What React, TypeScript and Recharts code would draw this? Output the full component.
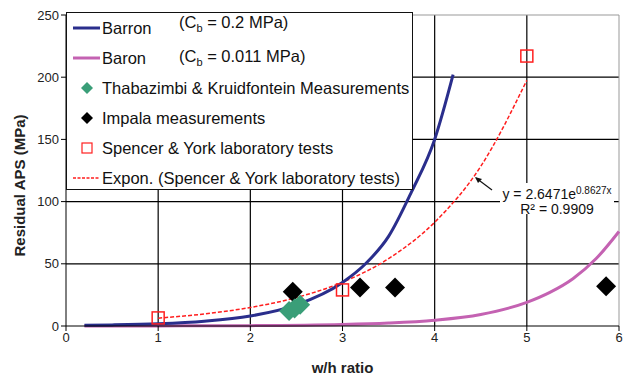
import { ComposedChart, Line, Scatter, XAxis, YAxis, CartesianGrid, ReferenceLine } from "recharts"

// Barron curve, Cb = 0.2 MPa
const barronX = [0.2, 0.5, 1, 1.5, 2, 2.5, 3, 3.25, 3.5, 3.75, 4, 4.2]
const barronY = [0.6, 0.9, 1.8, 3.8, 8, 17, 35, 50, 72, 108, 150, 202]

// Baron curve, Cb = 0.011 MPa
const baronX = [0.2, 1, 2, 3, 3.5, 4, 4.5, 5, 5.25, 5.5, 5.75, 6]
const baronY = [0, 0.1, 0.3, 1.2, 2.4, 4.7, 9.3, 19, 27, 38, 54, 76]

// exponential trendline through Spencer & York tests
const trendX = [1, 1.5, 2, 2.5, 3, 3.5, 4, 4.5, 5]
const trendY = [6.3, 9.7, 14.9, 22.9, 35.2, 54.2, 83.4, 128.3, 197.5]

const thabX = [2.42, 2.48, 2.54]
const thabY = [12, 14, 17]

const impalaX = [2.46, 3.19, 3.57, 5.86]
const impalaY = [27.5, 31, 31, 32]

const spencerX = [1, 3, 5]
const spencerY = [6.5, 29, 217]

const xTicks = [0, 1, 2, 3, 4, 5, 6]
const yTicks = [0, 50, 100, 150, 200, 250]

const zip = (xs: number[], ys: number[]) => xs.map((x, i) => ({ x, y: ys[i] }))

const barron = zip(barronX, barronY)
const baron = zip(baronX, baronY)
const trend = zip(trendX, trendY)
const thab = zip(thabX, thabY)
const impala = zip(impalaX, impalaY)
const spencer = zip(spencerX, spencerY)

const FONT = '"Liberation Sans", Arial, sans-serif'

const Diamond = ({ cx, cy, fill, r }: any) => (
  <path d={`M${cx},${cy - r} L${cx + r},${cy} L${cx},${cy + r} L${cx - r},${cy} Z`} fill={fill} />
)

const Square = ({ cx, cy }: any) => (
  <rect x={cx - 6} y={cy - 6} width={12} height={12} fill="none" stroke="#ff2020" strokeWidth={1.5} />
)

function LegendRow({ swatch, text, extra }: { swatch: any; text: string; extra?: any }) {
  return (
    <div style={{ height: 30, display: "flex", alignItems: "center", position: "relative" }}>
      <svg width={35} height={30} style={{ flex: "none" }}>{swatch}</svg>
      <span>{text}</span>
      {extra}
    </div>
  )
}

const cb = (val: string, top: number) => (
  <span style={{ position: "absolute", left: 112, top }}>
    (C<sub style={{ fontSize: 11 }}>b</sub> = {val} MPa)
  </span>
)

export default function App() {
  return (
    <div style={{ position: "absolute", left: 0, top: 0, width: 623, height: 377, background: "#fff", fontFamily: FONT }}>
      <ComposedChart width={623} height={377} margin={{ top: 15, right: 4, bottom: 0, left: 0 }}>
        <CartesianGrid stroke="#000" strokeWidth={1.2} verticalValues={[1, 2, 3, 4, 5]} horizontalValues={[50, 100, 150, 200]} />
        <ReferenceLine y={250} stroke="#999" />
        <ReferenceLine x={6} stroke="#999" />
        <XAxis
          type="number"
          dataKey="x"
          domain={[0, 6]}
          ticks={xTicks}
          height={51}
          stroke="#000"
          tickSize={5}
          tick={{ fontSize: 13, fill: "#222", fontFamily: FONT }}
          label={{ value: "w/h ratio", position: "insideBottom", offset: 4, style: { fontSize: 15, fontWeight: "bold", fill: "#222", fontFamily: FONT } }}
        />
        <YAxis
          type="number"
          dataKey="y"
          domain={[0, 250]}
          ticks={yTicks}
          width={66}
          stroke="#000"
          tickSize={5}
          tick={{ fontSize: 13, fill: "#222", fontFamily: FONT }}
          label={{
            content: ({ viewBox }: any) => {
              const cx = 19
              const cy = viewBox.y + viewBox.height / 2 + 15
              return (
                <text x={cx} y={cy} transform={`rotate(-90 ${cx} ${cy})`} textAnchor="middle" dominantBaseline="central"
                  style={{ fontSize: 15, fontWeight: "bold", fill: "#222", fontFamily: FONT }}>
                  Residual APS (MPa)
                </text>
              )
            },
          }}
        />
        <Line data={baron} dataKey="y" type="monotone" stroke="#c462b2" strokeWidth={3} dot={false} isAnimationActive={false} />
        <Line data={trend} dataKey="y" type="monotone" stroke="#ff1e1e" strokeWidth={1.5} strokeDasharray="4 2" dot={false} isAnimationActive={false} />
        <Line data={barron} dataKey="y" type="monotone" stroke="#2a2e8c" strokeWidth={3} dot={false} isAnimationActive={false} />
        <Scatter data={spencer} dataKey="y" shape={<Square />} isAnimationActive={false} />
        <Scatter data={impala} dataKey="y" fill="#000" shape={(p: any) => <Diamond {...p} r={10} />} isAnimationActive={false} />
        <Scatter data={thab} dataKey="y" fill="#3a9e78" shape={(p: any) => <Diamond {...p} r={10} />} isAnimationActive={false} />
      </ComposedChart>

      {/* legend */}
      <div style={{ position: "absolute", left: 66, top: 12, width: 347, height: 178, border: "1.5px solid #111", background: "#fff", fontSize: 16.5, color: "#111", boxSizing: "border-box" }}>
        <LegendRow swatch={<line x1={6} x2={33} y1={15} y2={15} stroke="#2a2e8c" strokeWidth={3} />} text="Barron" extra={cb("0.2", 0)} />
        <LegendRow swatch={<line x1={6} x2={33} y1={15} y2={15} stroke="#c462b2" strokeWidth={3} />} text="Baron" extra={cb("0.011", 4)} />
        <LegendRow swatch={<path d="M20,9 L26,15 L20,21 L14,15 Z" fill="#3a9e78" />} text="Thabazimbi & Kruidfontein Measurements" />
        <LegendRow swatch={<path d="M20,9 L26,15 L20,21 L14,15 Z" fill="#000" />} text="Impala measurements" />
        <LegendRow swatch={<rect x={15} y={10} width={10} height={10} fill="none" stroke="#ff2020" strokeWidth={1.2} />} text="Spencer & York laboratory tests" />
        <LegendRow swatch={<line x1={6} x2={33} y1={15} y2={15} stroke="#ff1e1e" strokeWidth={1.5} strokeDasharray="3 1.5" />} text="Expon. (Spencer & York laboratory tests)" />
      </div>

      {/* trendline equation */}
      <div style={{ position: "absolute", left: 500, top: 183, width: 114, height: 31, background: "#fff", fontSize: 14, color: "#111", textAlign: "center", lineHeight: "15px" }}>
        <div>y = 2.6471e<sup style={{ fontSize: 10, verticalAlign: 5 }}>0.8627x</sup></div>
        <div>R² = 0.9909</div>
      </div>
      <svg style={{ position: "absolute", left: 470, top: 172 }} width={26} height={22}>
        <line x1={22} y1={18} x2={6} y2={6} stroke="#111" strokeWidth={1.2} />
        <path d="M5,5 L12,7 L8,11 Z" fill="#111" />
      </svg>
    </div>
  )
}
